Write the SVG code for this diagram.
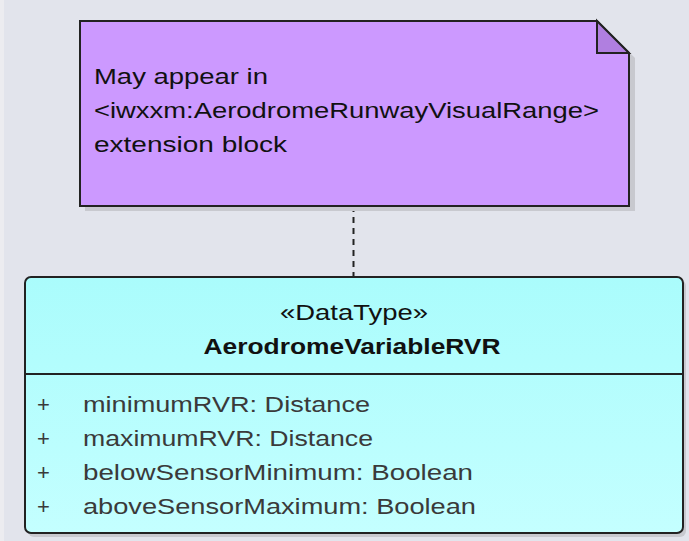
<svg xmlns="http://www.w3.org/2000/svg" width="689" height="541" viewBox="0 0 689 541">
<defs>
<linearGradient id="cls" x1="0" y1="0" x2="0" y2="1">
<stop offset="0" stop-color="#aafcfc"/>
<stop offset="1" stop-color="#c4ffff"/>
</linearGradient>
<style>
.t{font-family:"Liberation Sans",Arial,sans-serif;font-size:22px;fill:#111}
.a{font-family:"Liberation Sans",Arial,sans-serif;font-size:22px;fill:#3a3a3a}
.b{font-weight:bold}
.edge{stroke:#222;stroke-width:2}
.shadow{fill:#c8c9cf}
</style>
</defs>
<rect width="689" height="541" fill="#e2e4ec"/>
<rect x="0" y="0" width="4" height="541" fill="#ececf0"/>
<g id="connectors">
<line x1="353.5" y1="206" x2="353.5" y2="277" stroke="#222" stroke-width="2" stroke-dasharray="6,5"/>
</g>
<g id="note">
<polygon class="shadow" points="85,26 602,26 635,58 635,211 85,211"/>
<polygon points="80,21 597,21 629,53 629,206 80,206" style="fill:#cc99ff" class="edge"/>
<polygon points="597,21 597,53 629,53" style="fill:#b07fe0" class="edge"/>
<text class="t" x="94" y="84" textLength="174" lengthAdjust="spacingAndGlyphs">May appear in</text>
<text class="t" x="94" y="118" textLength="505" lengthAdjust="spacingAndGlyphs">&lt;iwxxm:AerodromeRunwayVisualRange&gt;</text>
<text class="t" x="94" y="152" textLength="193" lengthAdjust="spacingAndGlyphs">extension block</text>
</g>
<g id="class">
<rect x="28" y="280" width="658" height="257" rx="6" class="shadow"/>
<rect x="25" y="277" width="658" height="256" rx="6" style="fill:url(#cls)" class="edge"/>
<line x1="25" y1="374" x2="683" y2="374" stroke="#222" stroke-width="2"/>
<text class="t" x="354" y="320" text-anchor="middle" textLength="148" lengthAdjust="spacingAndGlyphs">«DataType»</text>
<text class="t b" x="352" y="354" text-anchor="middle" textLength="297" lengthAdjust="spacingAndGlyphs">AerodromeVariableRVR</text>
<text class="a" x="37" y="412">+</text>
<text class="a" x="83" y="412" textLength="287" lengthAdjust="spacingAndGlyphs">minimumRVR: Distance</text>
<text class="a" x="37" y="446">+</text>
<text class="a" x="83" y="446" textLength="290" lengthAdjust="spacingAndGlyphs">maximumRVR: Distance</text>
<text class="a" x="37" y="480">+</text>
<text class="a" x="83" y="480" textLength="390" lengthAdjust="spacingAndGlyphs">belowSensorMinimum: Boolean</text>
<text class="a" x="37" y="514">+</text>
<text class="a" x="83" y="514" textLength="393" lengthAdjust="spacingAndGlyphs">aboveSensorMaximum: Boolean</text>
</g>
</svg>
